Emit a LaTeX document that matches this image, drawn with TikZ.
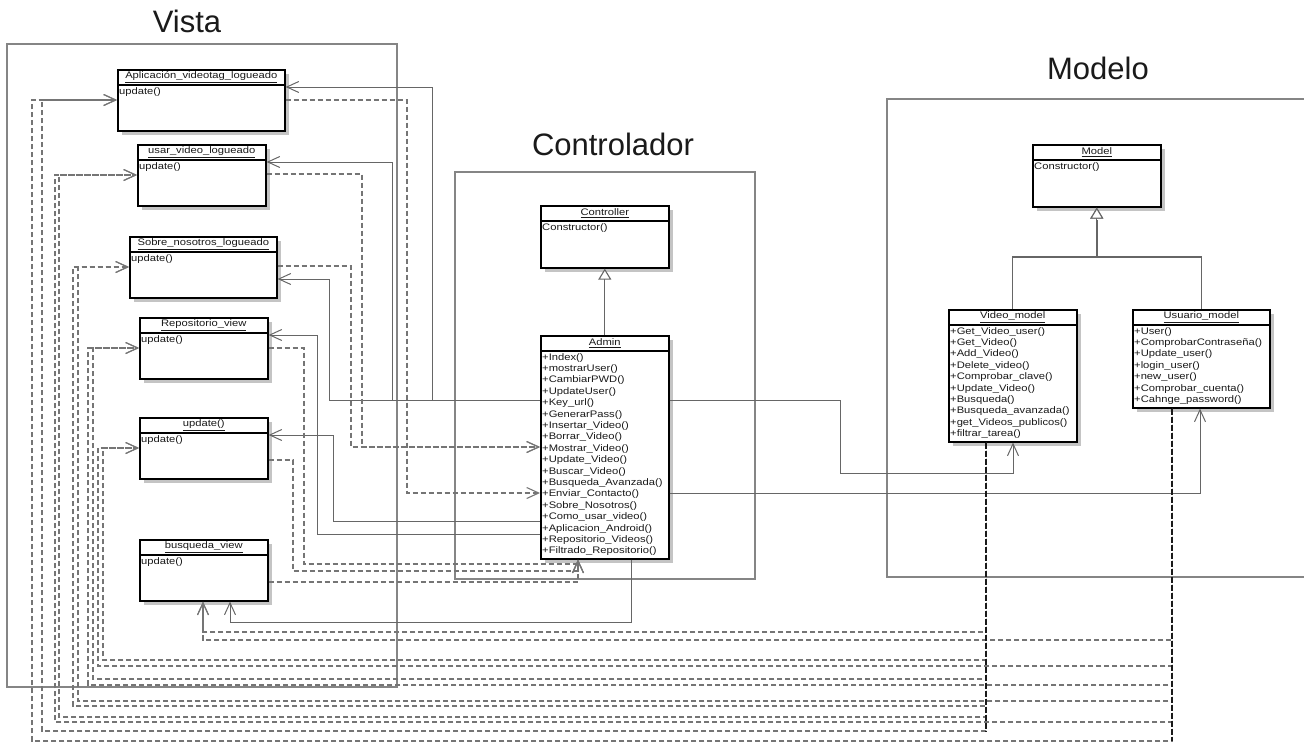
\documentclass[tikz,border=0pt]{standalone}
\usepackage{fontspec}
\setmainfont{Liberation Sans}
\newfontfamily\umlfont{Liberation Sans}[FakeStretch=1.18]
\usepackage{tikz}
\usetikzlibrary{arrows.meta,positioning,calc,shadows}
\definecolor{ink}{HTML}{1A1A1A}
\definecolor{wire}{HTML}{666666}
\definecolor{dashwire}{HTML}{757575}
\definecolor{frame}{HTML}{858585}
\definecolor{shade}{HTML}{C4C4C4}

\begin{document}
\begin{tikzpicture}[x=1pt, y=-1pt,
  every node/.style={font=\umlfont\fontsize{9.5}{11.4}\selectfont, text=ink},
  package/.style={draw=frame, line width=1.1pt},
  pkgtitle/.style={font=\normalfont\fontsize{31}{36}\selectfont, anchor=base},
  classbox/.style={draw=black, line width=1.6pt, fill=white, anchor=north west, inner sep=0pt,
    drop shadow={shadow xshift=4pt, shadow yshift=-4pt, fill=shade, opacity=1}},
  classname/.style={draw=black, line width=1.6pt, anchor=north, minimum height=15pt, inner sep=0pt},
  methods/.style={anchor=north west, align=left, inner sep=0pt},
  assoc/.style={draw=wire, line width=1pt, -{Straight Barb[length=12pt,width=11pt]}},
  dep/.style={assoc, draw=dashwire, line width=1.1pt, dash pattern=on 5pt off 3pt},
  inherit/.style={draw=wire, line width=1.1pt, -{Triangle[length=11pt,width=13pt,fill=white]}}
]
\useasboundingbox (0,0) rectangle (1304,742);

% packages
\draw[package] (7,44) rectangle (397,687);
\node[pkgtitle] (vista) at (187,32) {Vista};
\draw[package] (455,172) rectangle (755,579);
\node[pkgtitle] (controlador) at (613,155) {Controlador};
\draw[package] (1304,99) -- (887,99) -- (887,577) -- (1304,577);
\node[pkgtitle] (modelo) at (1098,79) {Modelo};

% vista
\node[classbox, minimum width=167pt, minimum height=61pt] (aplic) at (117,69) {};
\node[classname, minimum width=167pt] (aplic-n) at (aplic.north) {\underline{Aplicación\_videotag\_logueado}};
\node[methods] (aplic-m) at ($(aplic.north west)+(2,18)$) {update()};

\node[classbox, minimum width=128pt, minimum height=61pt] (usar) at (137,144) {};
\node[classname, minimum width=128pt] (usar-n) at (usar.north) {\underline{usar\_video\_logueado}};
\node[methods] (usar-m) at ($(usar.north west)+(2,18)$) {update()};

\node[classbox, minimum width=147pt, minimum height=61pt] (sobre) at (129,236) {};
\node[classname, minimum width=147pt] (sobre-n) at (sobre.north) {\underline{Sobre\_nosotros\_logueado}};
\node[methods] (sobre-m) at ($(sobre.north west)+(2,18)$) {update()};

\node[classbox, minimum width=128pt, minimum height=61pt] (repo) at (139,317) {};
\node[classname, minimum width=128pt] (repo-n) at (repo.north) {\underline{Repositorio\_view}};
\node[methods] (repo-m) at ($(repo.north west)+(2,18)$) {update()};

\node[classbox, minimum width=128pt, minimum height=61pt] (upd) at (139,417) {};
\node[classname, minimum width=128pt] (upd-n) at (upd.north) {\underline{update()}};
\node[methods] (upd-m) at ($(upd.north west)+(2,18)$) {update()};

\node[classbox, minimum width=128pt, minimum height=61pt] (busq) at (139,539) {};
\node[classname, minimum width=128pt] (busq-n) at (busq.north) {\underline{busqueda\_view}};
\node[methods] (busq-m) at ($(busq.north west)+(2,18)$) {update()};

% controlador
\node[classbox, minimum width=128pt, minimum height=62pt] (controller) at (540,205) {};
\node[classname, minimum width=128pt] (controller-n) at (controller.north) {\underline{Controller}};
\node[methods] (controller-m) at ($(controller.north west)+(2,18)$) {Constructor()};

\node[classbox, minimum width=128pt, minimum height=223pt] (admin) at (540,335) {};
\node[classname, minimum width=128pt] (admin-n) at (admin.north) {\underline{Admin}};
\node[methods] (admin-m) at ($(admin.north west)+(2,18)$) {+Index()\\+mostrarUser()\\+CambiarPWD()\\+UpdateUser()\\+Key\_url()\\+GenerarPass()\\+Insertar\_Video()\\+Borrar\_Video()\\+Mostrar\_Video()\\+Update\_Video()\\+Buscar\_Video()\\+Busqueda\_Avanzada()\\+Enviar\_Contacto()\\+Sobre\_Nosotros()\\+Como\_usar\_video()\\+Aplicacion\_Android()\\+Repositorio\_Videos()\\+Filtrado\_Repositorio()};

% modelo
\node[classbox, minimum width=128pt, minimum height=62pt] (model) at (1032,144) {};
\node[classname, minimum width=128pt] (model-n) at (model.north) {\underline{Model}};
\node[methods] (model-m) at ($(model.north west)+(2,18)$) {Constructor()};

\node[classbox, minimum width=128pt, minimum height=132pt] (video) at (948,309) {};
\node[classname, minimum width=128pt] (video-n) at (video.north) {\underline{Video\_model}};
\node[methods] (video-m) at ($(video.north west)+(2,18)$) {+Get\_Video\_user()\\+Get\_Video()\\+Add\_Video()\\+Delete\_video()\\+Comprobar\_clave()\\+Update\_Video()\\+Busqueda()\\+Busqueda\_avanzada()\\+get\_Videos\_publicos()\\+filtrar\_tarea()};

\node[classbox, minimum width=137pt, minimum height=98pt] (usuario) at (1132,309) {};
\node[classname, minimum width=137pt] (usuario-n) at (usuario.north) {\underline{Usuario\_model}};
\node[methods] (usuario-m) at ($(usuario.north west)+(2,18)$) {+User()\\+ComprobarContraseña()\\+Update\_user()\\+login\_user()\\+new\_user()\\+Comprobar\_cuenta()\\+Cahnge\_password()};

\coordinate (video-foot) at (986,731);
\coordinate (usuario-foot) at (1172,741);

\draw[inherit] (admin.north) -- (controller.south);
\draw[inherit] (video.north) |- (model.south |- 0,257) -- (model.south);
\draw[inherit] (usuario.north) |- (model.south |- 0,257) -- (model.south);
\draw[wire, line width=2pt] (model.south |- 0,257) -- ($(model.south)+(0,12)$);

\draw[assoc] (admin.west |- 0,400) -| (432,87) -- (aplic.east |- 0,87);
\draw[assoc] (admin.west |- 0,400) -| (392,162) -- (usar.east |- 0,162);
\draw[assoc] (admin.west |- 0,400) -| (329,279) -- (sobre.east |- 0,279);
\draw[assoc] (admin.west |- 0,534) -| (317,335) -- (repo.east |- 0,335);
\draw[assoc] (admin.west |- 0,521) -| (333,435) -- (upd.east |- 0,435);
\draw[assoc] (admin.south -| 631,0) |- (230,622) -- (busq.south -| 230,0);
\draw[assoc] (admin.east |- 0,400) -| (840,473) -| (video.south -| 1013,0);
\draw[assoc] (admin.east |- 0,493) -| (usuario.south -| 1200,0);

\draw[dep] (aplic.east |- 0,100) -| (407,493) -- (admin.west |- 0,493);
\draw[dep] (usar.east |- 0,174) -| (362,447) -- (admin.west |- 0,447);
\draw[dep] (sobre.east |- 0,266) -| (351,447) -- (admin.west |- 0,447);
\draw[dep] (repo.east |- 0,348) -| (304,564) -| (admin.south -| 578,0);
\draw[dep] (upd.east |- 0,460) -| (293,571) -| (admin.south -| 578,0);
\draw[dep] (busq.east |- 0,582) -| (admin.south -| 578,0);

\draw[dep] (video.south -| 986,0) |- (42,731) |- (aplic.west |- 0,100);
\draw[dep] (usuario.south -| 1172,0) |- (32,741) |- (aplic.west |- 0,100);
\draw[dep] (video.south -| 986,0) |- (59,717) |- (usar.west |- 0,175);
\draw[dep] (usuario.south -| 1172,0) |- (55,722) |- (usar.west |- 0,175);
\draw[dep] (video.south -| 986,0) |- (73,706) |- (sobre.west |- 0,267);
\draw[dep] (usuario.south -| 1172,0) |- (78,701) |- (sobre.west |- 0,267);
\draw[dep] (video.south -| 986,0) |- (93,679) |- (repo.west |- 0,348);
\draw[dep] (usuario.south -| 1172,0) |- (88,685) |- (repo.west |- 0,348);
\draw[dep] (video.south -| 986,0) |- (103,660) |- (upd.west |- 0,448);
\draw[dep] (usuario.south -| 1172,0) |- (98,666) |- (upd.west |- 0,448);
\draw[dep] (video.south -| 986,0) |- (203,632) -- (busq.south -| 203,0);
\draw[dep] (usuario.south -| 1172,0) |- (203,640) -- (busq.south -| 203,0);

\draw[ink, line width=1.3pt, dash pattern=on 6pt off 2pt] (video.south -| video-foot) -- (video-foot);
\draw[ink, line width=1.3pt, dash pattern=on 6pt off 2pt] (usuario.south -| usuario-foot) -- (usuario-foot);
\end{tikzpicture}
\end{document}
